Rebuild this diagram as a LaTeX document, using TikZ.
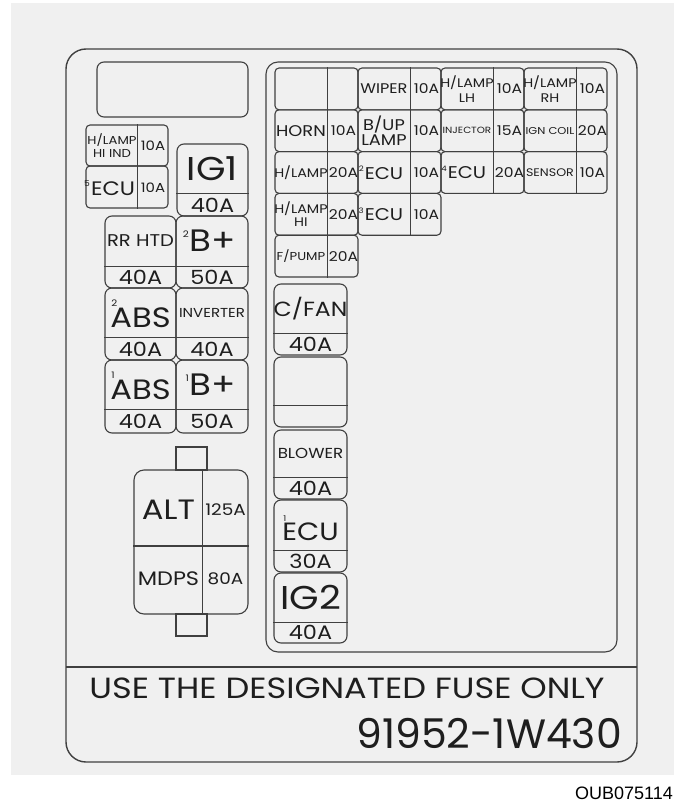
\documentclass[tikz,border=0pt]{standalone}
\usepackage{fontspec}
\newfontfamily\fusefont{Poppins}[FakeStretch=1.15]
\newfontfamily\partfont{Poppins}
\newfontfamily\codefont{Liberation Sans}
\usetikzlibrary{fit}
\definecolor{panel}{HTML}{F0F0F0}
\definecolor{ink}{HTML}{404040}
\definecolor{txt}{HTML}{1E1E1E}
% small fuse index, hanging left / sitting over the first letter
\newcommand\fidx[2][7.5]{\llap{\raisebox{.45em}{\fontsize{#1}{#1}\selectfont #2\kern1pt}}}
\newcommand\fidxa[2][9]{\rlap{\raisebox{.76em}{\fontsize{#1}{#1}\selectfont\kern1pt #2}}}
\begin{document}
\begin{tikzpicture}[x=1pt, y=-1pt,
        every node/.style={inner sep=0pt, text=txt},
        box/.style={draw=ink, line width=1.1pt, rounded corners=4pt},
        bigbox/.style={box, rounded corners=7pt},
        tab/.style={draw=ink, line width=1.1pt},
        part/.style={draw=ink, line width=1.1pt},
        big/.style={font=\fusefont\fontsize{31}{31}\selectfont},
        amp/.style={font=\fusefont\fontsize{19.5}{19.5}\selectfont},
        tag/.style={font=\fusefont\fontsize{#1}{#1}\selectfont, align=center}
        ]
        \useasboundingbox (0,0) rectangle (674,803);
        \fill[panel] (11,3) rectangle (674,775);

        % Label outline
        \node[box, line width=1.4pt, rounded corners=20pt, fit={(66,49) (637,762)}] (label) {};
        \coordinate (sepL) at (66,667);
        \coordinate (sepR) at (637,667);
        \draw[part] (sepL) -- (sepR);

        % Left block
        \node[box, rounded corners=7pt, fit={(97,62) (248,117)}] (blank) {};
        \node[box, fit={(86,125) (168,166)}] (hilamp) {};
        \node[box, fit={(86,166) (168,208)}] (ecu5) {};
        \draw[part] ([xshift=52pt]hilamp.north west) -- ([xshift=52pt]ecu5.south west);
        \node[tag=11.5] (hilampT) at (112,145.5) {H/LAMP\\[1pt]HI IND};
        \node[tag=13] (hilampA) at (153,145.5) {10A};
        \node[tag=19.5] (ecu5T) at (113,188) {\fidx[8]{5}ECU};
        \node[tag=13] (ecu5A) at (153,188) {10A};

        \node[bigbox, fit={(177,144) (248,216)}] (ig1) {};
        \draw[part] ([yshift=23pt]ig1.south west) -- ([yshift=23pt]ig1.south east);
        \node[tag=33] (ig1T) at (212.5,168.5) {IG1};
        \node[amp] (ig1A) at (212.5,205) {40A};

        \node[bigbox, fit={(105,216) (176,288)}] (rrhtd) {};
        \node[bigbox, fit={(176,216) (248,288)}] (bplus2) {};
        \draw[part] ([yshift=22pt]rrhtd.south west) -- ([yshift=22pt]bplus2.south east);
        \node[tag=17] (rrhtdT) at (140.5,241) {RR HTD};
        \node[amp] (rrhtdA) at (140.5,277.5) {40A};
        \node[big] (bplus2T) at (213,241) {\fidx[9]{2}B+};
        \node[amp] (bplus2A) at (212,277.5) {50A};

        \node[bigbox, fit={(105,288) (176,360)}] (abs2) {};
        \node[bigbox, fit={(176,288) (248,360)}] (inverter) {};
        \draw[part] ([yshift=23pt]abs2.south west) -- ([yshift=23pt]inverter.south east);
        \node[tag=28] (abs2T) at (140.5,314) {\fidxa{2}ABS};
        \node[tag=13] (inverterT) at (212,313) {INVERTER};
        \node[amp] (abs2A) at (140.5,349) {40A};
        \node[amp] (inverterA) at (212,349) {40A};

        \node[bigbox, fit={(105,360) (176,433)}] (abs1) {};
        \node[bigbox, fit={(176,360) (248,433)}] (bplus1) {};
        \draw[part] ([yshift=24pt]abs1.south west) -- ([yshift=24pt]bplus1.south east);
        \node[tag=28] (abs1T) at (140.5,386) {\fidxa{1}ABS};
        \node[big] (bplus1T) at (213,385) {\fidx[9]{1}B+};
        \node[amp] (abs1A) at (140.5,421) {40A};
        \node[amp] (bplus1A) at (212,421) {50A};

        % ALT / MDPS
        \node[tab, fit={(176,447) (207,470)}] (alttab) {};
        \node[tab, fit={(176,614) (207,636)}] (mdpstab) {};
        \node[box, rounded corners=10pt, fit={(134,470) (248,614)}] (altbox) {};
        \draw[part] ([xshift=69pt]altbox.north west) -- ([xshift=69pt]altbox.south west);
        \draw[part] ([yshift=-4pt]altbox.west) -- ([yshift=-4pt]altbox.east);
        \node[tag=28] (altT) at (168.5,510) {ALT};
        \node[tag=16] (altA) at (225.5,510) {125A};
        \node[tag=19.5] (mdpsT) at (168.5,579) {MDPS};
        \node[tag=16] (mdpsA) at (225.5,579) {80A};

        % Right block
        \node[box, rounded corners=12pt, fit={(266,62) (617,652)}] (relaybox) {};
        \foreach \col/\row/\fs/\lbl/\amp in {
            1/1/12/{}/{}, 2/1/14/WIPER/10A, 3/1/12.5/{H/LAMP\\[2pt]LH}/10A, 4/1/12.5/{H/LAMP\\[2pt]RH}/10A,
            1/2/15.5/HORN/10A, 2/2/15.5/{B/UP\\LAMP}/10A, 3/2/9/INJECTOR/15A, 4/2/10/IGN COIL/20A,
            1/3/12.5/{H/LAMP}/20A, 2/3/17/{\fidx{2}ECU}/10A, 3/3/17/{\fidx{4}ECU}/20A, 4/3/11/SENSOR/10A,
            1/4/12.5/{H/LAMP\\[1pt]HI}/20A, 2/4/17/{\fidx{3}ECU}/10A,
            1/5/11.5/{F/PUMP}/20A}{
            \pgfmathsetmacro\xa{275+83*(\col-1)}
            \pgfmathsetmacro\ya{68+41.8*(\row-1)}
            \node[box, fit={(\xa,\ya) (\xa+83,\ya+41.8)}] (cell\row\col) {};
            \draw[part] ([xshift=53pt]cell\row\col.north west) -- ([xshift=53pt]cell\row\col.south west);
            \node[tag=\fs] (lbl\row\col) at ([xshift=26.5pt]cell\row\col.west) {\lbl};
            \node[tag=13.5] (amp\row\col) at ([xshift=-15pt]cell\row\col.east) {\amp};
        }

        \node[bigbox, fit={(274,284) (347,355)}] (cfan) {};
        \draw[part] ([yshift=22pt]cfan.south west) -- ([yshift=22pt]cfan.south east);
        \node[tag=20.5] (cfanT) at (310.5,308.5) {C/FAN};
        \node[amp] (cfanA) at (310.5,344) {40A};

        \node[bigbox, fit={(274,357) (347,427)}] (spare) {};
        \draw[part] ([yshift=22pt]spare.south west) -- ([yshift=22pt]spare.south east);

        \node[bigbox, fit={(274,430) (347,499)}] (blower) {};
        \draw[part] ([yshift=22pt]blower.south west) -- ([yshift=22pt]blower.south east);
        \node[tag=14.5] (blowerT) at (310.5,453.5) {BLOWER};
        \node[amp] (blowerA) at (310.5,488) {40A};

        \node[bigbox, fit={(274,500) (347,572)}] (ecu1) {};
        \draw[part] ([yshift=22pt]ecu1.south west) -- ([yshift=22pt]ecu1.south east);
        \node[tag=25] (ecu1T) at (310.5,528) {\fidxa[8]{1}ECU};
        \node[amp] (ecu1A) at (310.5,561) {30A};

        \node[bigbox, fit={(274,573) (347,643)}] (ig2) {};
        \draw[part] ([yshift=21pt]ig2.south west) -- ([yshift=21pt]ig2.south east);
        \node[tag=33] (ig2T) at (310.5,597.5) {IG2};
        \node[amp] (ig2A) at (310.5,632.5) {40A};

        % Notice and part number
        \node[font=\fusefont\fontsize{29.2}{29.2}\selectfont] (notice) at (347,688) {USE THE DESIGNATED FUSE ONLY};
        \node[anchor=east, font=\partfont\fontsize{41}{41}\selectfont] (partno) at (622,733) {91952-1W430};
        \node[anchor=east, text=black, font=\codefont\fontsize{18}{18}\selectfont] (figid) at (673,793) {OUB075114};
    \end{tikzpicture}
\end{document}
